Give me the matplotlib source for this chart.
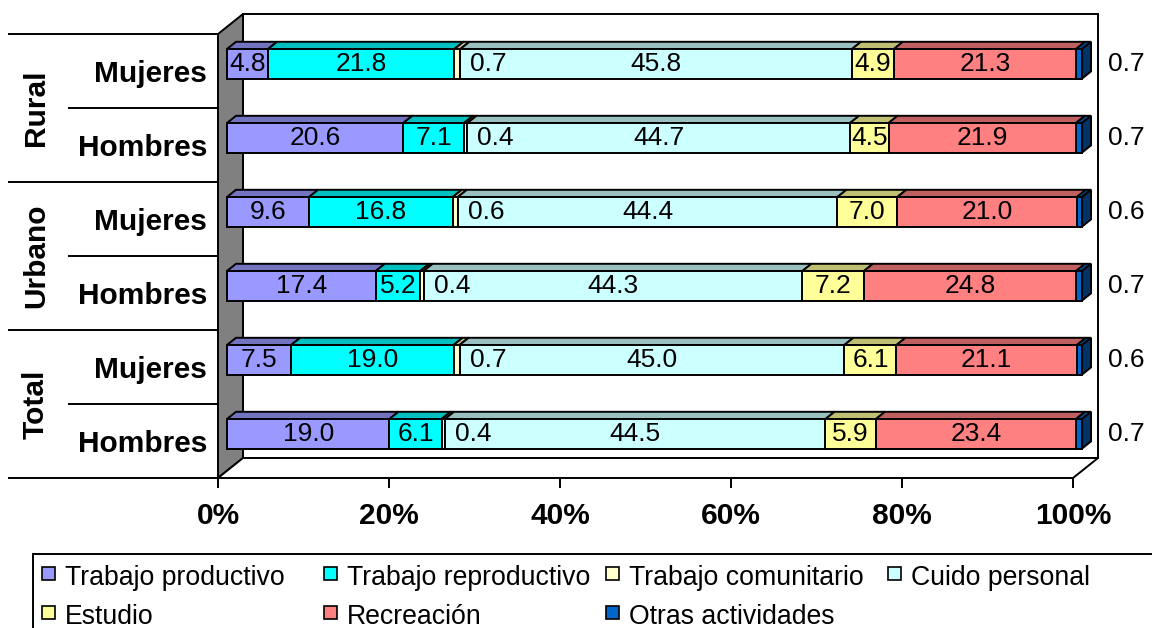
import matplotlib
matplotlib.use("Agg")
import matplotlib.pyplot as plt
from matplotlib.patches import Polygon, Rectangle
from matplotlib.transforms import offset_copy
import numpy as np

plt.rcParams['font.family'] = ['Liberation Sans', 'DejaVu Sans']

# ---------------- data (rows bottom -> top) ----------------
row_labels = ["Hombres", "Mujeres", "Hombres", "Mujeres", "Hombres", "Mujeres"]
group_labels = ["Total", "Urbano", "Rural"]
series_names = ["Trabajo productivo", "Trabajo reproductivo", "Trabajo comunitario",
                "Cuido personal", "Estudio", "Recreación", "Otras actividades"]
trabajo_productivo = [19.0, 7.5, 17.4, 9.6, 20.6, 4.8]
trabajo_reproductivo = [6.1, 19.0, 5.2, 16.8, 7.1, 21.8]
trabajo_comunitario = [0.4, 0.7, 0.4, 0.6, 0.4, 0.7]
cuido_personal = [44.5, 45.0, 44.3, 44.4, 44.7, 45.8]
estudio = [5.9, 6.1, 7.2, 7.0, 4.5, 4.9]
recreacion = [23.4, 21.1, 24.8, 21.0, 21.9, 21.3]
otras_actividades = [0.7, 0.6, 0.7, 0.6, 0.7, 0.7]
colors = ["#9999FF", "#00FFFF", "#FFFFCC", "#CCFFFF", "#FFFF99", "#FF8080", "#0066CC"]
xticks = [0, 20, 40, 60, 80, 100]
xtick_labels = ["0%", "20%", "40%", "60%", "80%", "100%"]

series = [trabajo_productivo, trabajo_reproductivo, trabajo_comunitario,
          cuido_personal, estudio, recreacion, otras_actividades]
vals = np.array(series, dtype=float)
pct = vals / vals.sum(axis=0) * 100.0
n_rows = pct.shape[1]
ypos = np.arange(n_rows)

# ---------------- figure / axes ----------------
W, H = 1152, 628
fig = plt.figure(figsize=(W / 100, H / 100), dpi=100)
ax_l, ax_r, ax_b, ax_t = 218, 1073, 478, 34
ax = fig.add_axes([ax_l / W, (H - ax_b) / H, (ax_r - ax_l) / W, (ax_b - ax_t) / H])
ax.set_xlim(0, 100)
ax.set_ylim(-0.5, n_rows - 0.5)
for s in ax.spines.values():
    s.set_visible(False)
ax.patch.set_visible(False)

xs = (ax_r - ax_l) / 100.0          # px per %
ys = (ax_b - ax_t) / n_rows         # px per category
DX, DY = 25.0, 20.0                 # wall depth in px
LW = 1.4
BOLD_FS = 21.5
LABEL_FS = 19
LEG_FS = 19.2


def depth(d):
    return d * DX / xs, d * DY / ys


wx, wy = depth(1.0)
y0, y1 = -0.5, n_rows - 0.5
# walls
ax.add_patch(Polygon([(0, y0), (wx, y0 + wy), (wx, y1 + wy), (0, y1)], closed=True,
                     fc="#808080", ec="black", lw=LW, clip_on=False, zorder=0.5))
ax.add_patch(Polygon([(wx, y0 + wy), (100 + wx, y0 + wy), (100 + wx, y1 + wy), (wx, y1 + wy)],
                     closed=True, fc="white", ec="black", lw=LW, clip_on=False, zorder=0.4))
ax.add_patch(Polygon([(0, y0), (100, y0), (100 + wx, y0 + wy), (wx, y0 + wy)], closed=True,
                     fc="white", ec="black", lw=LW, clip_on=False, zorder=0.6))

# bars
f_d, b_d = 0.36, 0.72
fdx, fdy = depth(f_d)
bdx, bdy = depth(b_d)
trans_front = offset_copy(ax.transData, fig=fig, x=f_d * DX, y=f_d * DY, units='dots')
bh = 0.4


def shade(c, k):
    r, g, b = matplotlib.colors.to_rgb(c)
    return (r * k, g * k, b * k)


left = np.zeros(n_rows)
for i, (name, col) in enumerate(zip(series_names, colors)):
    w = pct[i]
    ax.barh(ypos, w, left=left, height=bh, color=col, edgecolor="black", lw=LW,
            transform=trans_front, clip_on=False, zorder=3)
    for j in range(n_rows):
        l, r = left[j], left[j] + w[j]
        yt = ypos[j] + bh / 2
        ax.add_patch(Polygon([(l + fdx, yt + fdy), (r + fdx, yt + fdy), (r + bdx, yt + bdy),
                              (l + bdx, yt + bdy)], closed=True, fc=shade(col, 0.75),
                             ec="black", lw=LW, clip_on=False, zorder=2.5))
        if i == len(series_names) - 1:
            yb = ypos[j] - bh / 2
            ax.add_patch(Polygon([(r + fdx, yb + fdy), (r + fdx, yt + fdy), (r + bdx, yt + bdy),
                                  (r + bdx, yb + bdy)], closed=True, fc=shade(col, 0.5),
                                 ec="black", lw=LW, clip_on=False, zorder=2.5))
    left = left + w

# data labels
trans_comm = offset_copy(ax.transData, fig=fig, x=f_d * DX + 10, y=f_d * DY, units='dots')
trans_other = offset_copy(ax.transData, fig=fig, x=f_d * DX + 26, y=f_d * DY, units='dots')
left = np.zeros(n_rows)
for i in range(len(series_names)):
    w = pct[i]
    for j in range(n_rows):
        txt = f"{vals[i, j]:.1f}"
        if i == 2:
            ax.text(left[j] + w[j], ypos[j], txt, transform=trans_comm, ha="left", va="center",
                    fontsize=LABEL_FS, zorder=5)
        elif i == 6:
            ax.text(left[j] + w[j], ypos[j], txt, transform=trans_other, ha="left", va="center",
                    fontsize=LABEL_FS, zorder=5, clip_on=False)
        else:
            ax.text(left[j] + w[j] / 2, ypos[j], txt, transform=trans_front, ha="center",
                    va="center", fontsize=LABEL_FS, zorder=5)
    left = left + w

# x axis ticks
ax.set_xticks(xticks)
ax.set_xticklabels(xtick_labels, fontsize=BOLD_FS, fontweight="bold")
ax.tick_params(axis="x", length=7.5, width=LW, pad=10, direction="out")

# y axis (categories)
ax.set_yticks(ypos)
ax.set_yticklabels(row_labels, fontsize=BOLD_FS, fontweight="bold")
ax.tick_params(axis="y", length=0, pad=8)

ytr = ax.get_yaxis_transform()
x_far = (9 - ax_l) / (ax_r - ax_l)
x_mid = (69 - ax_l) / (ax_r - ax_l)
x_grp = (36 - ax_l) / (ax_r - ax_l)
for g in range(len(group_labels) + 1):
    yy = g * 2 - 0.5
    ax.plot([x_far, 0], [yy, yy], color="black", lw=LW, transform=ytr, clip_on=False)
for g in range(len(group_labels)):
    yy = g * 2 + 0.5
    ax.plot([x_mid, 0], [yy, yy], color="black", lw=LW, transform=ytr, clip_on=False)
    ax.text(x_grp, yy, group_labels[g], rotation=90, ha="center", va="center",
            fontsize=BOLD_FS, fontweight="bold", transform=ytr)

# legend (Excel-like grid)
leg_left, leg_top = 33, 554
fig.add_artist(Rectangle((leg_left / W, -0.1), 1.2, (H - leg_top) / H + 0.1,
                         transform=fig.transFigure, fill=False, ec="black", lw=LW))
col_w, row_h = 282, 39
for k, (name, col) in enumerate(zip(series_names, colors)):
    r_, c_ = divmod(k, 4)
    mx = 42 + c_ * col_w
    cy = 573 + r_ * row_h
    fig.add_artist(Rectangle((mx / W, (H - cy - 6.5) / H), 13 / W, 13 / H,
                             transform=fig.transFigure, fc=col, ec="black", lw=1.2))
    fig.text((mx + 23) / W, (H - (cy + 12)) / H, name, fontsize=LEG_FS, ha="left",
             va="baseline")

fig.savefig("out.png", dpi=100)
